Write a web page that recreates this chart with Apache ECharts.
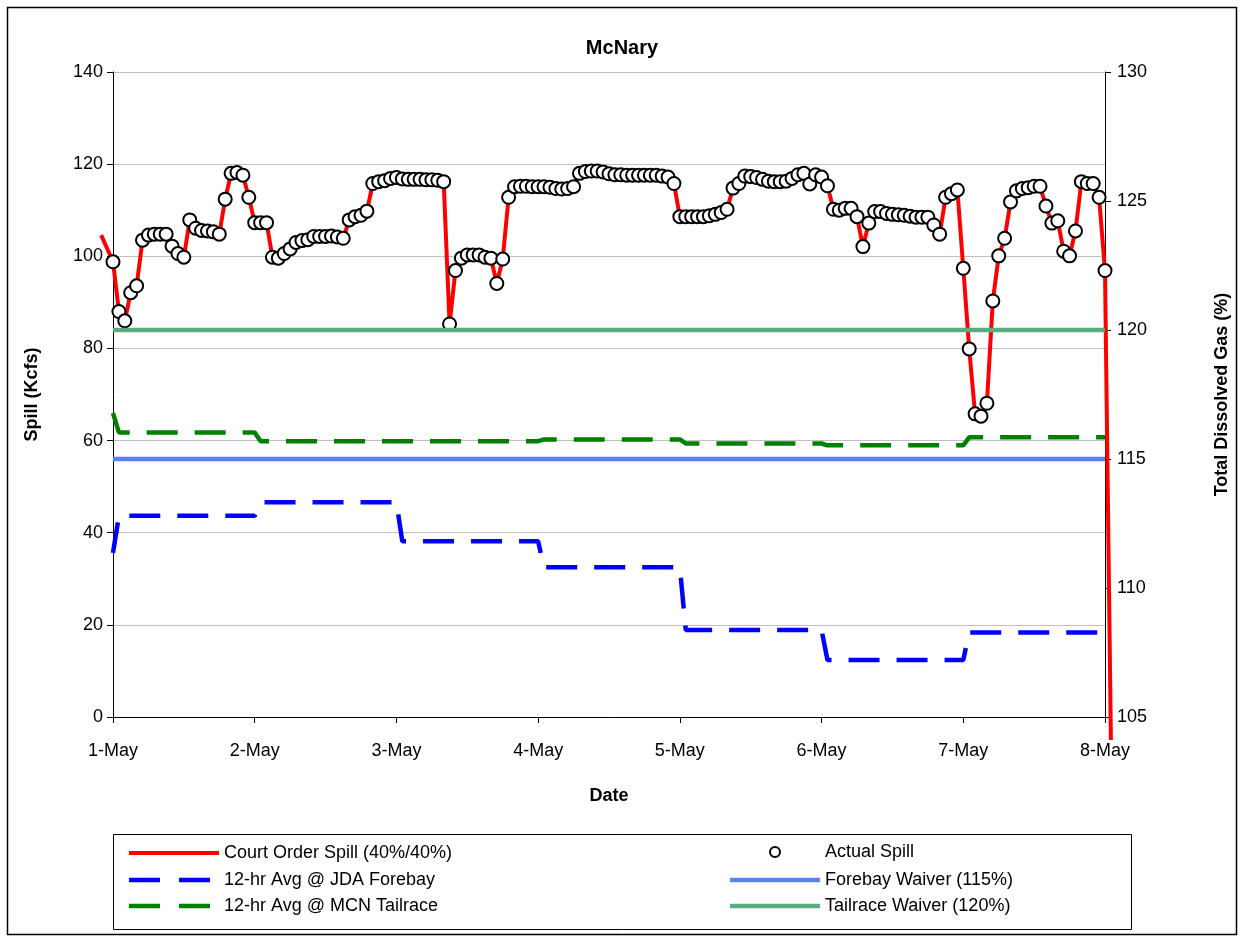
<!DOCTYPE html>
<html>
<head>
<meta charset="utf-8">
<script src="https://cdn.jsdelivr.net/npm/echarts@6/dist/echarts.min.js"></script>
<style>
html,body{margin:0;padding:0;background:#fff;}
#chart{width:1244px;height:941px;}
</style>
</head>
<body>
<div id="chart"></div>
<script>
// ---- data ----
const dayLabels = ['1-May','2-May','3-May','4-May','5-May','6-May','7-May','8-May'];
// hourly actual spill (Kcfs), hour 0 = 1-May 00:00 ... hour 168 = 8-May 00:00
const actualSpill = [
  98.8, 88.0, 86.0, 92.1, 93.6, 103.5, 104.6, 104.8, 104.8, 104.8,
  102.2, 100.6, 99.8, 107.9, 106.1, 105.6, 105.5, 105.3, 104.8, 112.4,
  118.0, 118.2, 117.6, 112.8, 107.3, 107.3, 107.3, 99.8, 99.6, 100.6,
  101.6, 103.0, 103.4, 103.6, 104.3, 104.3, 104.3, 104.4, 104.2, 103.9,
  107.9, 108.6, 108.9, 109.8, 115.8, 116.2, 116.4, 116.9, 117.1, 116.8,
  116.7, 116.7, 116.7, 116.6, 116.6, 116.5, 116.2, 85.3, 96.9, 99.6,
  100.3, 100.3, 100.3, 99.8, 99.6, 94.1, 99.4, 112.8, 115.1, 115.2,
  115.2, 115.1, 115.1, 115.1, 115.0, 114.7, 114.6, 114.7, 115.1, 118.0,
  118.4, 118.5, 118.5, 118.3, 117.9, 117.7, 117.7, 117.6, 117.6, 117.6,
  117.6, 117.6, 117.6, 117.4, 117.2, 115.8, 108.6, 108.6, 108.6, 108.6,
  108.6, 108.8, 109.1, 109.5, 110.2, 114.8, 115.8, 117.4, 117.3, 117.1,
  116.7, 116.3, 116.2, 116.2, 116.3, 116.9, 117.7, 118.0, 115.7, 117.7,
  117.2, 115.3, 110.2, 110.0, 110.4, 110.4, 108.6, 102.1, 107.2, 109.7,
  109.7, 109.3, 109.1, 109.0, 108.9, 108.7, 108.5, 108.5, 108.5, 106.8,
  104.8, 112.8, 113.6, 114.4, 97.4, 79.9, 65.8, 65.3, 68.1, 90.3,
  100.1, 103.9, 111.8, 114.2, 114.7, 114.9, 115.2, 115.2, 110.9, 107.2,
  107.7, 101.1, 100.1, 105.5, 116.2, 115.8, 115.8, 112.8, 96.9
];
// court order spill follows actual spill; extra points before the start and after the end
const courtOrderLead = [[-2, 104.6]];
const courtOrderTail = [[169, -5]];
// 12-hr averages (% TDG): value at 1-May 00:00, then one value per day
const jdaForebayStart = 111.36;
const jdaForebayDaily = [112.80, 113.32, 111.81, 110.80, 108.37, 107.21, 108.28];
const mcnTailraceStart = 116.78;
const mcnTailraceDaily = [116.03, 115.69, 115.69, 115.76, 115.60, 115.53, 115.84];
const forebayWaiver = 115;
const tailraceWaiver = 120;

// ---- build ----
const HOURS = 168;
const actualData = actualSpill.map((v, h) => [h, v]);
const courtData = courtOrderLead.concat(actualData, courtOrderTail);
function stepData(start, daily) {
  const out = [[0, start]];
  daily.forEach((v, d) => { out.push([24 * d + 1, v]); out.push([24 * d + 24, v]); });
  return out;
}
const jdaData = stepData(jdaForebayStart, jdaForebayDaily);
const mcnData = stepData(mcnTailraceStart, mcnTailraceDaily);
const fbData = [[0, forebayWaiver], [HOURS, forebayWaiver]];
const trData = [[0, tailraceWaiver], [HOURS, tailraceWaiver]];

// main plot geometry
const G = { left: 113, right: 1105, top: 72, bottom: 717 };
const Y_MIN = 0, Y_MAX = 140;
// wider overlay grid for the court-order line so its ends can run past the axes
const X_LO = courtOrderLead[0][0], X_HI = courtOrderTail[0][0], Y_LO = courtOrderTail[0][1];
const pxPerX = (G.right - G.left) / HOURS;
const pxPerY = (G.bottom - G.top) / (Y_MAX - Y_MIN);
const G2 = {
  left: G.left + X_LO * pxPerX,
  right: 1244 - (G.right + (X_HI - HOURS) * pxPerX),
  top: G.top,
  bottom: 941 - (G.bottom + (Y_MIN - Y_LO) * pxPerY)
};

const FONT = "'Liberation Sans', Arial, sans-serif";
const txt = { fontFamily: FONT, fontSize: 18, color: '#000' };
const dashIcon = 'path://M0,0h31v4h-31zM50,0h31v4h-31zM89.95,0h0.05v0.05h-0.05z';

function legendAt(name, left, top, icon, w, h, keep) {
  return {
    data: [{ name: name, icon: icon }], left: left, top: top, padding: 0,
    itemWidth: w, itemHeight: h, itemGap: 0, symbolKeepAspect: keep,
    textStyle: Object.assign({}, txt), selectedMode: false
  };
}

const chart = echarts.init(document.getElementById('chart'), null, { renderer: 'canvas' });
chart.setOption({
  animation: false,
  backgroundColor: '#fff',
  title: {
    text: 'McNary', left: 'center', top: 33,
    textStyle: { fontFamily: FONT, fontSize: 20, fontWeight: 'bold', color: '#000' }
  },
  grid: [
    { left: G.left, right: 1244 - G.right, top: G.top, bottom: 941 - G.bottom, containLabel: false },
    { left: G2.left, right: G2.right, top: G2.top, bottom: G2.bottom, containLabel: false, show: false }
  ],
  legend: [
    legendAt('Court Order Spill (40%/40%)', 129, 844, 'rect', 90, 4, true),
    legendAt('12-hr Avg @ JDA Forebay', 129, 871, dashIcon, 90, 4.5, false),
    legendAt('12-hr Avg @ MCN Tailrace', 129, 897, dashIcon, 90, 4.5, false),
    legendAt('Actual Spill', 769, 843, 'circle', 90, 10, true),
    legendAt('Forebay Waiver (115%)', 730, 871, 'rect', 90, 4.5, true),
    legendAt('Tailrace Waiver (120%)', 730, 897, 'rect', 90, 4.5, true)
  ],
  graphic: [
    { type: 'rect', shape: { x: 7.5, y: 7.5, width: 1229, height: 927 }, style: { fill: 'none', stroke: '#000', lineWidth: 1.5 }, silent: true, z: -1 },
    { type: 'rect', shape: { x: 113.5, y: 834.5, width: 1018, height: 95 }, style: { fill: 'none', stroke: '#000', lineWidth: 1 }, silent: true, z: -1 }
  ],
  xAxis: [
    {
      type: 'value', gridIndex: 0, min: 0, max: HOURS, interval: 24,
      name: 'Date', nameLocation: 'middle', nameGap: 70,
      nameTextStyle: { fontFamily: FONT, fontSize: 18, fontWeight: 'bold', color: '#000' },
      axisLine: { show: true, onZero: false, lineStyle: { color: '#000', width: 1 } },
      axisTick: { show: true, inside: false, length: 6, lineStyle: { color: '#000' } },
      axisLabel: Object.assign({ margin: 25, formatter: v => dayLabels[Math.round(v / 24)] }, txt),
      splitLine: { show: false }
    },
    { type: 'value', gridIndex: 1, min: X_LO, max: X_HI, show: false }
  ],
  yAxis: [
    {
      type: 'value', gridIndex: 0, min: Y_MIN, max: Y_MAX, interval: 20, position: 'left',
      name: 'Spill (Kcfs)', nameLocation: 'middle', nameGap: 72, nameRotate: 90,
      nameTextStyle: { fontFamily: FONT, fontSize: 18, fontWeight: 'bold', color: '#000' },
      axisLine: { show: true, lineStyle: { color: '#000', width: 1 } },
      axisTick: { show: true, inside: false, length: 6, lineStyle: { color: '#000' } },
      axisLabel: Object.assign({ margin: 10 }, txt),
      splitLine: { show: true, lineStyle: { color: '#c0c0c0', width: 1 } }
    },
    {
      type: 'value', gridIndex: 0, min: 105, max: 130, interval: 5, position: 'right',
      name: 'Total Dissolved Gas (%)', nameLocation: 'middle', nameGap: 108, nameRotate: 90,
      nameTextStyle: { fontFamily: FONT, fontSize: 18, fontWeight: 'bold', color: '#000' },
      axisLine: { show: true, lineStyle: { color: '#000', width: 1 } },
      axisTick: { show: true, inside: false, length: 6, lineStyle: { color: '#000' } },
      axisLabel: Object.assign({ margin: 12 }, txt),
      splitLine: { show: false }
    },
    { type: 'value', gridIndex: 1, min: Y_LO, max: Y_MAX, show: false }
  ],
  series: [
    {
      name: 'Court Order Spill (40%/40%)', type: 'line', xAxisIndex: 1, yAxisIndex: 2,
      data: courtData, symbol: 'none', z: 2,
      lineStyle: { color: '#ff0000', width: 4 }, itemStyle: { color: '#ff0000' }
    },
    {
      name: 'Actual Spill', type: 'scatter', xAxisIndex: 0, yAxisIndex: 0,
      data: actualData, symbol: 'circle', symbolSize: 13, z: 3,
      itemStyle: { color: '#ffffff', borderColor: '#000', borderWidth: 2, opacity: 1 }
    },
    {
      name: '12-hr Avg @ JDA Forebay', type: 'line', xAxisIndex: 0, yAxisIndex: 1,
      data: jdaData, symbol: 'none', z: 4,
      lineStyle: { color: '#0000ff', width: 4.5, type: [31, 17], cap: 'butt' }, itemStyle: { color: '#0000ff' }
    },
    {
      name: 'Forebay Waiver (115%)', type: 'line', xAxisIndex: 0, yAxisIndex: 1,
      data: fbData, symbol: 'none', z: 4,
      lineStyle: { color: '#5b82f3', width: 4.5 }, itemStyle: { color: '#5b82f3' }
    },
    {
      name: '12-hr Avg @ MCN Tailrace', type: 'line', xAxisIndex: 0, yAxisIndex: 1,
      data: mcnData, symbol: 'none', z: 4,
      lineStyle: { color: '#008000', width: 4.5, type: [31, 17], cap: 'butt' }, itemStyle: { color: '#008000' }
    },
    {
      name: 'Tailrace Waiver (120%)', type: 'line', xAxisIndex: 0, yAxisIndex: 1,
      data: trData, symbol: 'none', z: 4,
      lineStyle: { color: '#5aab80', width: 4.5 }, itemStyle: { color: '#5aab80' }
    }
  ]
});
</script>
</body>
</html>
